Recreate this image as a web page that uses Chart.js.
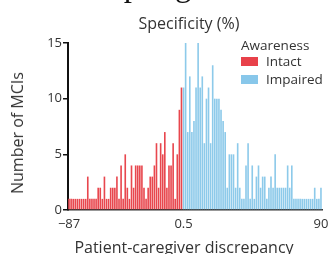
<!DOCTYPE html>
<html><head><meta charset="utf-8">
<script src="https://cdn.jsdelivr.net/npm/chart.js@4.4.1/dist/chart.umd.min.js"></script>
<style>
html,body{margin:0;padding:0;background:#fff;overflow:hidden;}
#wrap{position:relative;width:328px;height:254px;overflow:hidden;font-family:"Open Sans",sans-serif;color:#333;}
canvas{position:absolute;left:0;top:0;}
.t{position:absolute;white-space:nowrap;line-height:1;}
.sw{position:absolute;}
</style></head><body>
<div id="wrap">
<canvas id="c" width="328" height="254"></canvas>
<div class="t" style="font-family:'Liberation Serif',serif;font-size:33px;left:65px;top:-31px;color:#111;">Sampling</div>
<div class="t" id="title" style="font-size:16px;left:189px;top:15px;transform:translateX(-50%);">Specificity (%)</div>
<div class="t" style="font-size:13.5px;left:241px;top:39px;">Awareness</div>
<div class="sw" style="left:241px;top:57px;width:17px;height:9px;background:#E8414A;"></div>
<div class="t" style="font-size:13.5px;left:266px;top:55px;">Intact</div>
<div class="sw" style="left:241px;top:75px;width:17px;height:9px;background:#88C7EA;"></div>
<div class="t" style="font-size:13.5px;left:266px;top:72.7px;">Impaired</div>
<div class="t" style="font-size:16px;left:184px;top:239px;transform:translateX(-50%);">Patient-caregiver discrepancy</div>
<div class="t" style="font-size:16px;left:17px;top:133px;transform:translate(-50%,-50%) rotate(-90deg);">Number of MCIs</div>
</div>
<script>
// Counts of MCIs per patient-caregiver discrepancy bin
const intactCounts = [1,1,1,1,1,1,1,1,1, 3, 1,1,1,1, 2,2, 1, 3, 1,1, 2,2,2, 3, 1, 4, 1, 5, 2, 1, 4, 2, 4,4,4,4, 2, 1, 2, 3,3, 4, 6, 2, 6, 5, 7, 2, 4,4, 6, 1, 5, 9, 11];
const impairedCounts = [11,15,7,12,7,8,11,15,11,12,6,10,11,6,13,10,10,10,9,8,7,2,5,5,5,2,6,2,1,1,4,6,1,4,1,3,4,2,3,3,1,2,3,2,5,2,2,2,2,2,4,2,4,1,1,1,1,1,1,1,1,1,1,2,1,1,2];
const seriesNames = ['Intact','Impaired'];
const seriesColors = ['#E8474E','#8DCAEA'];
const xTickLabels = ['\u221287','0.5','90'];
const yTicks = {min:0, max:15, step:5};

const total = intactCounts.length + impairedCounts.length;
const categories = Array.from({length: total}, (_, i) => 'bin ' + (i + 1));
const intactData = intactCounts.concat(impairedCounts.map(() => null));
const impairedData = intactCounts.map(() => null).concat(impairedCounts);
const tickIndex = {};
tickIndex[0] = xTickLabels[0];
tickIndex[intactCounts.length] = xTickLabels[1];
tickIndex[total - 1] = xTickLabels[2];

const font = {family: 'Open Sans', size: 13};
new Chart(document.getElementById('c'), {
  type: 'bar',
  data: {
    labels: categories,
    datasets: [
      {label: seriesNames[0], data: intactData, backgroundColor: seriesColors[0], grouped: false, barPercentage: 0.78, categoryPercentage: 1},
      {label: seriesNames[1], data: impairedData, backgroundColor: seriesColors[1], grouped: false, barPercentage: 0.78, categoryPercentage: 1}
    ]
  },
  options: {
    responsive: false,
    animation: false,
    layout: {padding: {left: 0, right: 6, top: 43, bottom: 0}},
    plugins: {legend: {display: false}, title: {display: false}, tooltip: {enabled: false}},
    scales: {
      x: {
        grid: {display: false, drawTicks: false},
        border: {display: true, color: '#333', width: 1.5},
        ticks: {autoSkip: false, maxRotation: 0, minRotation: 0, padding: 6, font: font, color: '#333',
          callback: (v, i) => (tickIndex[i] !== undefined ? tickIndex[i] : '')},
        afterFit: s => { s.height = 44; s.paddingLeft = 0; s.paddingRight = 0; }
      },
      y: {
        min: yTicks.min, max: yTicks.max,
        ticks: {stepSize: yTicks.step, padding: 1, font: font, color: '#333'},
        grid: {drawOnChartArea: false, drawTicks: true, tickLength: 5, color: '#111', lineWidth: 1.5},
        border: {display: true, color: '#111', width: 2},
        afterFit: s => { s.width = 68; }
      }
    }
  }
});
</script>
</body></html>
